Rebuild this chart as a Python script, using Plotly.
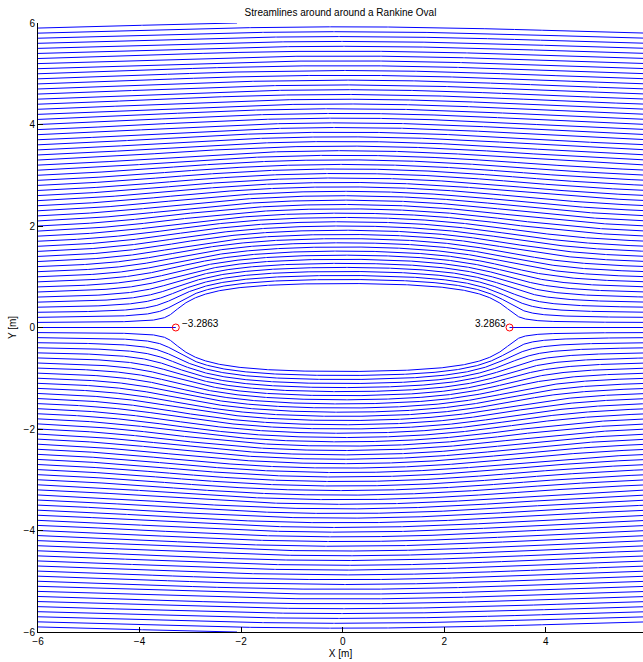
import numpy as np
import plotly.graph_objects as go

# ---- flow parameters (stagnation points at +/-3.2863) ----
U_inf = 1.0        # free-stream speed
m_src = 0.3        # source / sink strength (stream-function units)
a_src = 3.0        # source at -a, sink at +a
x_stag = [-3.2863, 3.2863]
stag_labels = ["\u22123.2863", "3.2863"]

# streamlines are seeded on the left edge (x = -6) every 0.1 m
x_seed = -6.0
seed_y = [round(0.1 * k, 1) for k in range(1, 60)]      # 0.1 ... 5.9 (mirrored below)

x_ticks = [-6, -4, -2, 0, 2, 4, 6]
y_ticks = [-6, -4, -2, 0, 2, 4, 6]
y_limit = 6.0


def psi(x, y):
    return U_inf * y + m_src * (np.arctan2(y, x + a_src) - np.arctan2(y, x - a_src))


xg = np.unique(np.concatenate([
    np.linspace(-6, 6, 601),
    np.linspace(-3.9, -2.7, 301),
    np.linspace(2.7, 3.9, 301),
]))


def streamline_y(level):
    lo = np.full_like(xg, 1e-9)
    hi = np.full_like(xg, 7.5)
    for _ in range(55):
        mid = 0.5 * (lo + hi)
        f = psi(xg, mid) - level
        hi = np.where(f > 0, mid, hi)
        lo = np.where(f > 0, lo, mid)
    return 0.5 * (lo + hi)


fig = go.Figure()

for s in seed_y:
    level = psi(x_seed, s)
    yy = streamline_y(level)
    out = np.nonzero(yy > y_limit)[0]
    n = out[0] + 1 if len(out) else len(xg)
    xx = xg[:n].astype(np.float32)
    yp = yy[:n].astype(np.float32)
    for sign in (1, -1):
        fig.add_trace(go.Scatter(x=xx, y=sign * yp, mode="lines",
                                 line=dict(color="#0000FF", width=1),
                                 hoverinfo="skip", showlegend=False))

# dividing streamline along the axis, outside the oval
fig.add_trace(go.Scatter(x=[-6, x_stag[0], None, x_stag[1], 6], y=[0, 0, None, 0, 0],
                         mode="lines", line=dict(color="#0000FF", width=1),
                         hoverinfo="skip", showlegend=False))

# stagnation points
fig.add_trace(go.Scatter(x=x_stag, y=[0, 0], mode="markers",
                         marker=dict(symbol="circle-open", size=7,
                                     line=dict(color="#FF0000", width=1), color="#FF0000"),
                         hoverinfo="skip", showlegend=False))

font = dict(family="Liberation Sans, Arial, Helvetica, sans-serif", size=10, color="black")

for xv, lab in zip(x_stag, stag_labels):
    left = xv < 0
    fig.add_annotation(x=xv, y=0, text=lab, showarrow=False, font=font,
                       xanchor="left" if left else "right", yanchor="middle",
                       xshift=4 if left else -2, yshift=4)

axis_common = dict(showgrid=False, zeroline=False, showline=True, linecolor="black",
                   linewidth=1, ticks="inside", ticklen=5, tickcolor="black", tickwidth=1,
                   mirror=False, tickfont=font)

fig.update_layout(
    width=643, height=662,
    margin=dict(l=38, r=0, t=23, b=30),
    paper_bgcolor="white", plot_bgcolor="white",
    font=font,
    title=dict(text="Streamlines around around a Rankine Oval", font=font,
               x=0.5, xref="paper", y=1 - 12 / 662, yref="container",
               xanchor="center", yanchor="middle"),
    xaxis=dict(range=[-6, 5.915], tickvals=x_ticks,
               title=dict(text="X [m]", font=font, standoff=3), **axis_common),
    yaxis=dict(range=[-6, 6], tickvals=y_ticks,
               title=dict(text="Y [m]", font=font, standoff=5), **axis_common),
)

fig.write_html("out.html")
